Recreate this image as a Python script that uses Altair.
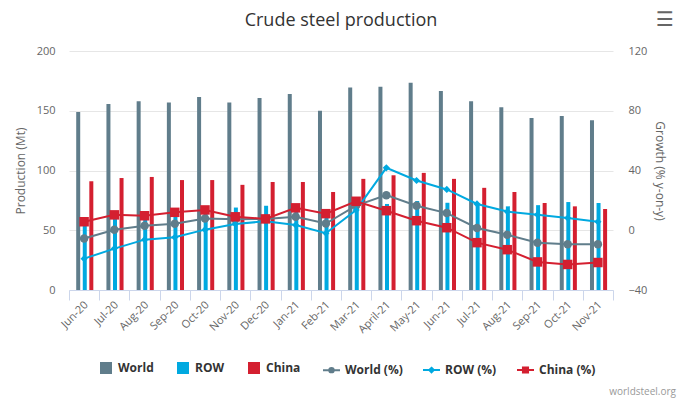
import altair as alt
import pandas as pd

months = ["Jun-20", "Jul-20", "Aug-20", "Sep-20", "Oct-20", "Nov-20", "Dec-20",
          "Jan-21", "Feb-21", "Mar-21", "April-21", "May-21", "Jun-21", "Jul-21",
          "Aug-21", "Sep-21", "Oct-21", "Nov-21"]

world = [149, 155.7, 158, 157, 161.5, 157, 160.7, 164, 150, 169.4, 170, 173.5,
         166.5, 158, 153, 144, 145.6, 142]
row = [57, 62, 62, 64, 68, 69, 70.5, 71, 66, 74, 72, 74.5, 73, 72.5, 70, 71, 73.6, 72.8]
china = [91, 93.7, 94.6, 92, 92, 88, 90.4, 90.4, 82, 93, 96, 98, 93, 85.5, 82, 72.8, 70, 67.8]

world_pct = [-5.5, 0.3, 3, 4.3, 7.8, 7.3, 7.6, 9, 4.5, 16.5, 23.5, 16.4, 11.5, 1.5,
             -3, -8.3, -9.4, -9.4]
row_pct = [-19, -12.3, -6.3, -4.7, 0.4, 4.2, 6, 3.5, -2, 13.5, 41.8, 33.3, 27.3, 17.6,
           12.5, 10.4, 8.2, 5.7]
china_pct = [5.7, 10.3, 9.7, 12, 13.6, 9, 7.6, 15, 11.1, 19.4, 13.1, 6.4, 1.7, -8.3,
             -13, -21.2, -22.9, -21.6]

bar_series = ["World", "ROW", "China"]
line_series = ["World (%)", "ROW (%)", "China (%)"]
colors = ["#607d8b", "#00a9e0", "#d41f30"]
marker_shapes = ["circle", "diamond", "square"]
marker_sizes = [72, 52, 90]

bars_df = pd.DataFrame({
    "month": months * 3,
    "series": [s for s in bar_series for _ in months],
    "value": world + row + china,
})
lines_df = pd.DataFrame({
    "month": months * 3,
    "series": [s for s in line_series for _ in months],
    "value": world_pct + row_pct + china_pct,
})

FONT = "Open Sans"

x_enc = alt.X(
    "month:N", sort=months,
    scale=alt.Scale(domain=months, paddingInner=0, paddingOuter=0),
    axis=alt.Axis(title=None, labelAngle=-45, labelAlign="right", labelBaseline="middle",
                  labelFontSize=11, labelColor="#666666", labelFont=FONT,
                  domainColor="#ccd6eb", tickColor="#ccd6eb", tickSize=10,
                  tickBand="extent", labelPadding=3, labelOffset=2, grid=False,
                  labelOverlap=False),
)

bars = alt.Chart(bars_df).mark_bar().encode(
    x=x_enc,
    xOffset=alt.XOffset("series:N", sort=bar_series,
                        scale=alt.Scale(domain=bar_series, paddingInner=0.39,
                                        paddingOuter=1, align=0.55)),
    y=alt.Y("value:Q", scale=alt.Scale(domain=[0, 200], nice=False),
            axis=alt.Axis(title="Production (Mt)", values=[0, 50, 100, 150, 200],
                          labelColor="#666666", labelFontSize=11, labelFont=FONT,
                          labelPadding=14, ticks=False, domain=False,
                          gridColor="#e6e6e6", titleColor="#666666", titleFontSize=12,
                          titleFontWeight="normal", titleFont=FONT, titlePadding=9)),
    fill=alt.Fill("series:N", scale=alt.Scale(domain=bar_series, range=colors),
                  legend=alt.Legend(orient="none", legendX=31, legendY=311,
                                    direction="horizontal", title=None,
                                    symbolType="square", symbolSize=144,
                                    symbolStrokeWidth=0, labelFontSize=12,
                                    labelFontWeight="bold", labelColor="#333333",
                                    labelFont=FONT, labelOffset=6, columnPadding=23,
                                    padding=0)),
)

P_CIRCLE = "M-1,0L1,0M-0.26,0A0.26,0.26,0,1,1,0.26,0A0.26,0.26,0,1,1,-0.26,0Z"
P_DIAMOND = "M-1,0L1,0M0,-0.27L0.27,0L0,0.27L-0.27,0Z"
P_SQUARE = "M-1,0L1,0M-0.3,-0.3L0.3,-0.3L0.3,0.3L-0.3,0.3Z"
shape_expr = ("datum.value === 'World (%)' ? '" + P_CIRCLE + "' : datum.value === 'ROW (%)' ? '"
              + P_DIAMOND + "' : '" + P_SQUARE + "'")
color_expr = "scale('color', datum.value)"

y_right = alt.Y("value:Q", scale=alt.Scale(domain=[-40, 120], nice=False),
                axis=alt.Axis(orient="right", title="Growth (% y-on-y)",
                              values=[-40, 0, 40, 80, 120], labelColor="#666666",
                              labelFontSize=11, labelFont=FONT, labelPadding=15,
                              ticks=False, domain=False, grid=False,
                              titleColor="#666666", titleFontSize=12,
                              titleFontWeight="normal", titleFont=FONT, titlePadding=6))

line_scale = alt.Scale(domain=line_series, range=colors)

lines = alt.Chart(lines_df).mark_line(strokeWidth=2).encode(
    x=x_enc,
    y=y_right,
    color=alt.Color("series:N", scale=line_scale,
                    legend=alt.Legend(orient="none", legendX=253, legendY=309,
                                      direction="horizontal", title=None,
                                      symbolSize=289, symbolStrokeWidth=2,
                                      symbolType={"expr": shape_expr},
                                      symbolStrokeColor={"expr": color_expr},
                                      symbolFillColor={"expr": color_expr},
                                      symbolOpacity=1,
                                      labelFontSize=12, labelFontWeight="bold",
                                      labelColor="#333333", labelFont=FONT,
                                      labelOffset=4, columnPadding=16, padding=0)),
)

point_layers = []
for s, shp, sz in zip(line_series, marker_shapes, marker_sizes):
    point_layers.append(
        alt.Chart(lines_df).transform_filter(alt.datum.series == s)
        .mark_point(filled=True, opacity=1, shape=shp, size=sz)
        .encode(x=x_enc, y=y_right,
                color=alt.Color("series:N", scale=line_scale, legend=None))
    )

credit = alt.Chart(pd.DataFrame({"t": ["worldsteel.org"]})).mark_text(
    align="right", baseline="alphabetic", fontSize=10, color="#999999", font=FONT
).encode(text="t:N", x=alt.value(607), y=alt.value(344))

menu = alt.Chart(pd.DataFrame({"t": ["\u2630"]})).mark_text(
    align="center", baseline="middle", fontSize=20, color="#666666", font="DejaVu Sans"
).encode(text="t:N", x=alt.value(596), y=alt.value(-31))

chart = alt.layer(
    bars, alt.layer(lines, *point_layers), credit, menu
).resolve_scale(y="independent").properties(
    width=544, height=239,
    title=alt.TitleParams("Crude steel production", fontSize=18, font=FONT,
                          color="#333333", fontWeight="normal", anchor="middle",
                          offset=-20),
    autosize=alt.AutoSizeParams(type="none"),
    padding={"left": 69, "top": 51, "right": 73, "bottom": 114},
).configure_view(stroke=None)

chart.save("out.html", embed_options={"renderer": "svg", "actions": False})
